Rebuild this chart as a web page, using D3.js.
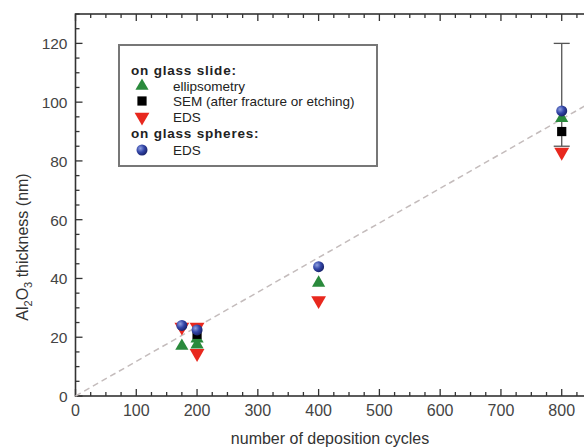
<!DOCTYPE html>
<html>
<head>
<meta charset="utf-8">
<script src="https://cdn.jsdelivr.net/npm/d3@7"></script>
<style>
  body { margin: 0; background: #fff; }
  svg { display: block; font-family: "Liberation Sans", Arial, sans-serif; }
</style>
</head>
<body>
<script>
// cycles / thickness (nm)
const ellipsometry = [[175, 17], [200, 19.5], [200, 17.5], [400, 38.5], [800, 94.5]];
const semData = [[200, 21], [800, 90]];
const edsSlide = [[175, 23.5], [200, 23.5], [200, 14.5], [400, 32.5], [800, 83]];
const edsSpheres = [[175, 24], [200, 22.5], [400, 44], [800, 97]];
const semError = [[800, 85, 120]];
const fitLine = [[0, 0], [900, 106]];
const xTicks = [0, 100, 200, 300, 400, 500, 600, 700, 800];
const yTicks = [0, 20, 40, 60, 80, 100, 120];

const width = 584, height = 448;
const margin = { top: 14, left: 75.5, bottom: 52 };

const x = d3.scaleLinear().domain([0, 900]).range([margin.left, margin.left + 547]);
const y = d3.scaleLinear().domain([0, 130]).range([height - margin.bottom, margin.top]);

const svg = d3.select("body").append("svg")
  .attr("width", width).attr("height", height);

const defs = svg.append("defs");
const grad = defs.append("radialGradient").attr("id", "ball")
  .attr("cx", "35%").attr("cy", "35%").attr("r", "65%");
grad.append("stop").attr("offset", "0%").attr("stop-color", "#8fa0e0");
grad.append("stop").attr("offset", "55%").attr("stop-color", "#3346a8");
grad.append("stop").attr("offset", "100%").attr("stop-color", "#1c2670");

const axisColor = "#333";
const x0 = x(0), x1 = x(900), yb = y(0), yt = y(130);

// frame
svg.append("rect")
  .attr("x", x0).attr("y", yt)
  .attr("width", x1 - x0).attr("height", yb - yt)
  .attr("fill", "none").attr("stroke", axisColor).attr("stroke-width", 1.6);

// ticks (pointing inwards), mirrored on top
const xMinor = d3.range(0, 901, 25);
const yMinor = d3.range(0, 131, 5);
const tickG = svg.append("g").attr("stroke", axisColor).attr("stroke-width", 1.3);
xMinor.forEach((v) => {
  const len = v % 100 === 0 ? 7 : 4;
  tickG.append("line").attr("x1", x(v)).attr("x2", x(v)).attr("y1", yb).attr("y2", yb - len);
  tickG.append("line").attr("x1", x(v)).attr("x2", x(v)).attr("y1", yt).attr("y2", yt + len);
});
yMinor.forEach((v) => {
  const len = v % 20 === 0 ? 7 : 4;
  tickG.append("line").attr("x1", x0).attr("x2", x0 + len).attr("y1", y(v)).attr("y2", y(v));
});

// tick labels
svg.append("g").selectAll("text").data(xTicks).join("text")
  .attr("x", (d) => x(d)).attr("y", yb + 20)
  .attr("text-anchor", "middle").attr("fill", "#444")
  .style("font-size", "16px").text((d) => d);
svg.append("g").selectAll("text").data(yTicks).join("text")
  .attr("x", x0 - 8).attr("y", (d) => y(d) + 6)
  .attr("text-anchor", "end").attr("fill", "#444")
  .style("font-size", "15.5px").text((d) => d);

// axis titles
svg.append("text")
  .attr("x", 330).attr("y", 444)
  .attr("text-anchor", "middle").attr("fill", "#333")
  .style("font-size", "16px").text("number of deposition cycles");

const yl = svg.append("text")
  .attr("transform", `translate(28,247) rotate(-90)`)
  .attr("text-anchor", "middle").attr("fill", "#333")
  .style("font-size", "16px");
yl.append("tspan").text("Al");
yl.append("tspan").attr("dy", 4).style("font-size", "11px").text("2");
yl.append("tspan").attr("dy", -4).text("O");
yl.append("tspan").attr("dy", 4).style("font-size", "11px").text("3");
yl.append("tspan").attr("dy", -4).text(" thickness (nm)");

// dashed guide line
svg.append("path")
  .attr("d", d3.line().x((d) => x(d[0])).y((d) => y(d[1]))(fitLine))
  .attr("fill", "none").attr("stroke", "#c4bcbc").attr("stroke-width", 1.5)
  .attr("stroke-dasharray", "6,4");

// error bar on SEM point
semError.forEach(([c, lo, hi]) => {
  const eg = svg.append("g").attr("stroke", "#555").attr("stroke-width", 1.3);
  eg.append("line").attr("x1", x(c)).attr("x2", x(c)).attr("y1", y(lo)).attr("y2", y(hi));
  eg.append("line").attr("x1", x(c) - 8).attr("x2", x(c) + 8).attr("y1", y(hi)).attr("y2", y(hi));
  eg.append("line").attr("x1", x(c) - 8).attr("x2", x(c) + 8).attr("y1", y(lo)).attr("y2", y(lo));
});

const triUp = d3.symbol().type(d3.symbolTriangle).size(75);
const triDown = d3.symbol().type(d3.symbolTriangle).size(95);
const square = d3.symbol().type(d3.symbolSquare).size(85);

function drawSeries(data, shape) {
  const g = svg.append("g");
  data.forEach(([c, v]) => shape(g, x(c), y(v)));
}
const upMark = (g, px, py) => g.append("path").attr("d", triUp())
  .attr("transform", `translate(${px},${py})`).attr("fill", "#2a8a3c");
const downMark = (g, px, py) => g.append("path").attr("d", triDown())
  .attr("transform", `translate(${px},${py}) rotate(180)`).attr("fill", "#e8281e");
const squareMark = (g, px, py) => g.append("path").attr("d", square())
  .attr("transform", `translate(${px},${py})`).attr("fill", "#000");
const ballMark = (g, px, py) => g.append("circle")
  .attr("cx", px).attr("cy", py).attr("r", 5.5).attr("fill", "url(#ball)");

drawSeries(edsSlide, downMark);
drawSeries(ellipsometry, upMark);
drawSeries(semData, squareMark);
drawSeries(edsSpheres, ballMark);

// legend
const lg = svg.append("g");
lg.append("rect").attr("x", 119).attr("y", 45).attr("width", 258).attr("height", 121)
  .attr("fill", "#fff").attr("stroke", "#777").attr("stroke-width", 2);
const legendRows = [
  { label: "on glass slide:", head: true, y: 70 },
  { label: "ellipsometry", mark: upMark, y: 86 },
  { label: "SEM (after fracture or etching)", mark: squareMark, y: 101 },
  { label: "EDS", mark: downMark, y: 117 },
  { label: "on glass spheres:", head: true, y: 133 },
  { label: "EDS", mark: ballMark, y: 150 },
];
legendRows.forEach((r) => {
  if (r.head) {
    lg.append("text").attr("x", 131).attr("y", r.y + 5)
      .attr("fill", "#222").style("font-size", "13.5px").style("font-weight", "bold")
      .style("letter-spacing", "0.8px").text(r.label);
  } else {
    r.mark(lg, 142, r.y);
    lg.append("text").attr("x", 173).attr("y", r.y + 5)
      .attr("fill", "#222").style("font-size", "13.5px").text(r.label);
  }
});
</script>
</body>
</html>
